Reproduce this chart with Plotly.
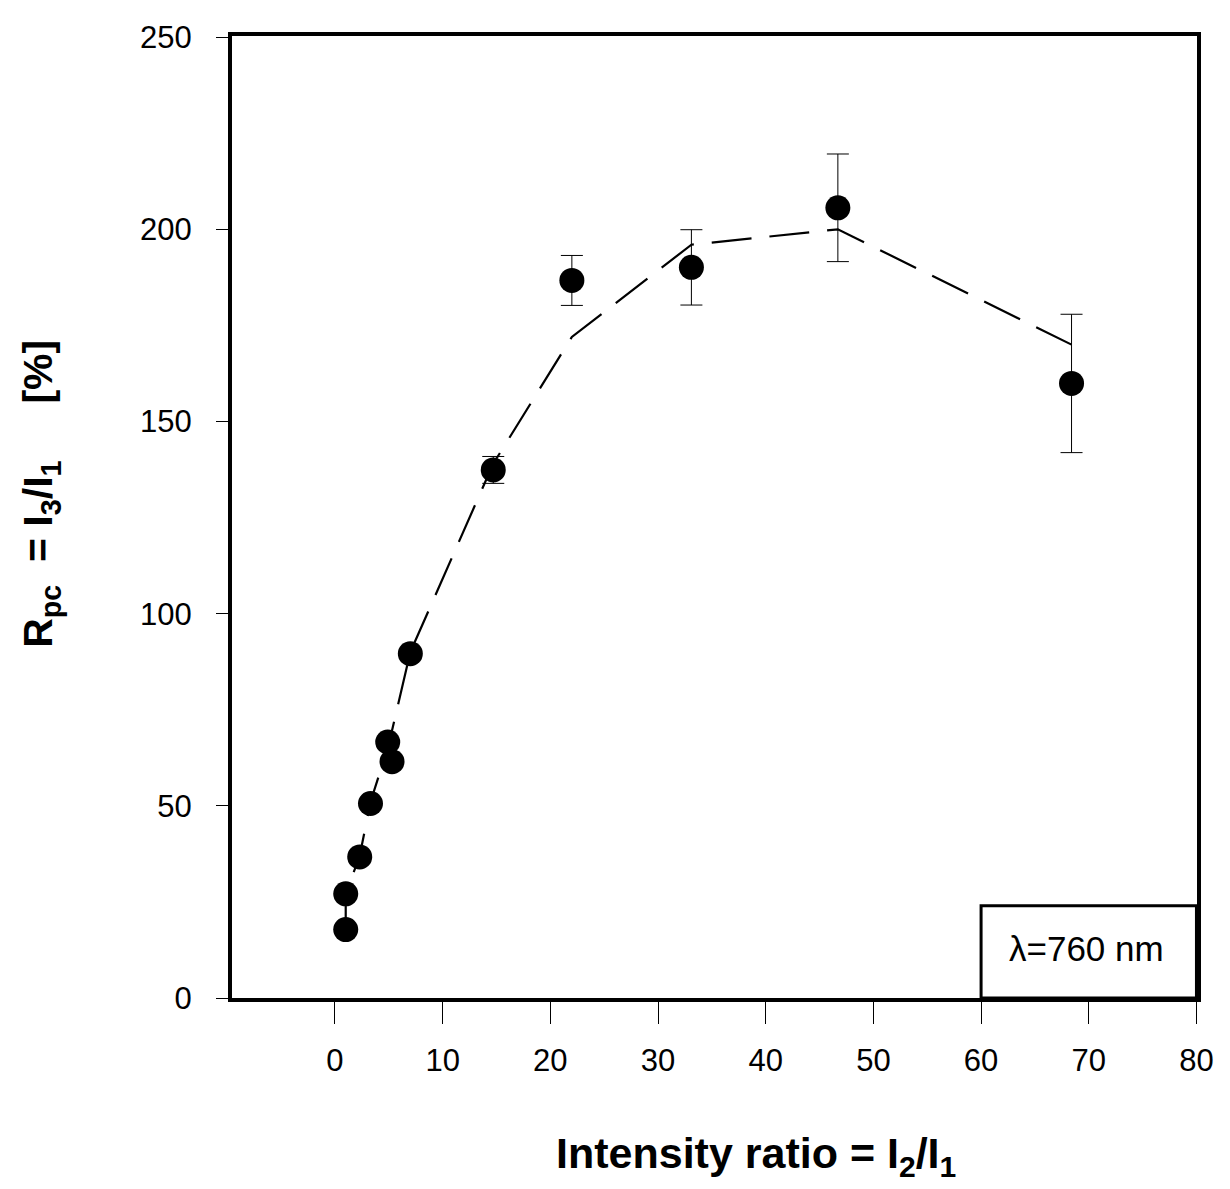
import plotly.graph_objects as go

# measured data
x_data = [1.0, 1.0, 2.3, 3.3, 4.9, 5.3, 7.0, 14.7, 22.0, 33.1, 46.7, 68.4]
y_data = [17.8, 27.1, 36.7, 50.6, 66.6, 61.5, 89.6, 137.4, 186.7, 190.1, 205.6, 159.9]
err_data = [0, 0, 0, 0, 0, 0, 0, 3.5, 6.5, 9.8, 14.0, 18.0]

# model (dashed) line
x_model = [1.0, 1.0, 2.3, 3.3, 5.0, 7.0, 14.7, 22.0, 33.1, 46.7, 68.4]
y_model = [18, 27, 37, 51, 66, 90, 139, 172, 196, 200, 170]

x_ticks = [0, 10, 20, 30, 40, 50, 60, 70, 80]
y_ticks = [0, 50, 100, 150, 200, 250]

FONT = "Liberation Sans, Arial, sans-serif"

fig = go.Figure()
fig.add_trace(go.Scatter(
    x=x_model, y=y_model, mode="lines",
    line=dict(color="black", width=2.2, dash="40px,18px"),
    showlegend=False, hoverinfo="skip"))
fig.add_trace(go.Scatter(
    x=x_data, y=y_data, mode="markers",
    marker=dict(color="black", size=25, symbol="circle"),
    error_y=dict(type="data", array=err_data, visible=True,
                 color="black", thickness=1, width=11),
    showlegend=False))

# lambda box
fig.add_shape(type="rect", xref="x", yref="y", x0=60, x1=80, y0=0, y1=24,
              line=dict(color="black", width=3), fillcolor="white", layer="above")
fig.add_annotation(x=69.8, y=12.8, xref="x", yref="y", text="λ=760 nm",
                   showarrow=False, font=dict(family=FONT, size=35, color="black"))

# axis titles
fig.add_annotation(
    x=0.543, y=-0.164, xref="paper", yref="paper",
    text="<b>Intensity ratio = I<sub>2</sub>/I<sub>1</sub></b>",
    showarrow=False, xanchor="center", yanchor="middle",
    font=dict(family=FONT, size=43, color="black"))
fig.add_annotation(
    x=-0.198, y=0.524, xref="paper", yref="paper",
    text="<b>R<sub>pc</sub>  = I<sub>3</sub>/I<sub>1</sub>     [%]</b>",
    showarrow=False, textangle=-90, xanchor="center", yanchor="middle",
    font=dict(family=FONT, size=41, color="black"))

fig.update_xaxes(
    range=[-9.56, 80.05], tickvals=x_ticks, ticktext=[str(v) for v in x_ticks],
    showgrid=False, zeroline=False, showline=True, linecolor="black", linewidth=4,
    mirror=True, ticks="outside", ticklen=22, tickwidth=1, tickcolor="black",
    ticklabelstandoff=10,
    tickfont=dict(family=FONT, size=31, color="black"))
fig.update_yaxes(
    range=[0, 250.3], tickvals=y_ticks, ticktext=[str(v) for v in y_ticks],
    showgrid=False, zeroline=False, showline=True, linecolor="black", linewidth=4,
    mirror=True, ticks="outside", ticklen=12, tickwidth=1, tickcolor="black",
    ticklabelstandoff=18,
    tickfont=dict(family=FONT, size=31, color="black"))

fig.update_layout(
    width=1222, height=1181,
    margin=dict(l=224, r=33, t=21, b=191),
    paper_bgcolor="white", plot_bgcolor="white",
    font=dict(family=FONT, color="black"))

fig.write_html("out.html")
